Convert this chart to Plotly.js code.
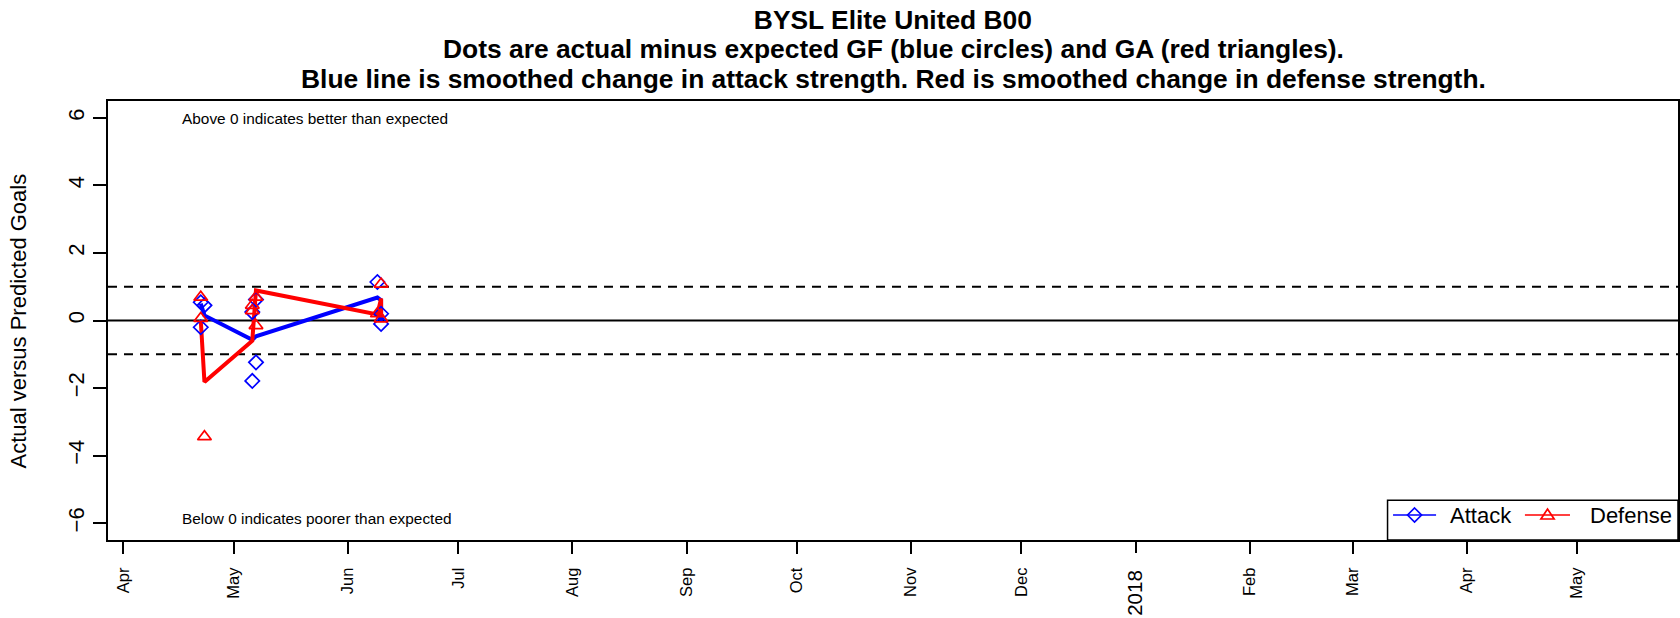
<!DOCTYPE html>
<html>
<head>
<meta charset="utf-8">
<script src="https://cdn.plot.ly/plotly-3.0.1.min.js"></script>
<style>html,body{margin:0;padding:0;background:#fff;}#chart{width:1680px;height:618px;}</style>
</head>
<body>
<div id="chart"></div>
<script>
// ---- data ----
var gameDates = ['2017-04-22','2017-04-22','2017-04-23','2017-05-06','2017-05-06','2017-05-07','2017-05-07','2017-06-09','2017-06-10','2017-06-10'];
var attackDiff = [0.54, -0.20, 0.45, 0.25, -1.79, 0.62, -1.24, 1.14, -0.10, 0.20];
var defenseDiff = [0.69, 0.06, -3.44, 0.29, 0.45, 0.69, -0.15, 0.20, 1.08, 0.05];
var attackSmooth = [0.50, 0.50, 0.15, -0.57, -0.57, -0.47, -0.47, 0.68, 0.60, 0.00];
var defenseSmooth = [0.00, 0.00, -1.82, -0.60, -0.60, 0.89, 0.89, 0.18, 0.65, 0.12];

var monthTickDates = ['2017-04-01','2017-05-01','2017-06-01','2017-07-01','2017-08-01','2017-09-01','2017-10-01','2017-11-01','2017-12-01','2018-02-01','2018-03-01','2018-04-01','2018-05-01'];
var monthTickLabels = ['Apr','May','Jun','Jul','Aug','Sep','Oct','Nov','Dec','Feb','Mar','Apr','May'];
var yearTickDates = ['2018-01-01'];
var yearTickLabels = ['2018'];
var yTicks = [-6, -4, -2, 0, 2, 4, 6];
var refLevels = [-1, 0, 1];
var legendNames = ['Attack', 'Defense'];

var titleLines = ['BYSL Elite United B00',
  'Dots are actual minus expected GF (blue circles) and GA (red triangles).',
  'Blue line is smoothed change in attack strength. Red is smoothed change in defense strength.'];

var FONT = 'Liberation Sans, Arial, Helvetica, sans-serif';
var BLUE = '#0000FF', RED = '#FF0000';
var xRange = ['2017-03-27 19:00', '2018-05-28 10:00'];

var traces = [
  {x: gameDates, y: attackSmooth, mode: 'lines', name: 'Attack trend', line: {color: BLUE, width: 4}, showlegend: false, hoverinfo: 'skip'},
  {x: gameDates, y: defenseSmooth, mode: 'lines', name: 'Defense trend', line: {color: RED, width: 4}, showlegend: false, hoverinfo: 'skip'},
  {x: gameDates, y: attackDiff, mode: 'markers', name: legendNames[0], marker: {symbol: 'diamond-open', size: 11, color: BLUE, line: {width: 1.7, color: BLUE}}, showlegend: false},
  {x: gameDates, y: defenseDiff, mode: 'markers', name: legendNames[1], marker: {symbol: 'triangle-up-open', size: 12, color: RED, line: {width: 1.7, color: RED}}, showlegend: false},
  {x: yearTickDates, y: [null], xaxis: 'x2', mode: 'markers', showlegend: false, hoverinfo: 'skip'}
];

var shapes = refLevels.map(function (v) {
  return {type: 'line', xref: 'paper', x0: 0, x1: 1, yref: 'y', y0: v, y1: v,
    line: {color: '#000', width: 2, dash: v === 0 ? 'solid' : '9px,7px'}, layer: 'below'};
});

// legend box (bottom-right, inside the plot frame)
var LY = 0.0569;
shapes.push({type: 'rect', xref: 'paper', yref: 'paper', x0: 0.815, x1: 1, y0: 0, y1: 0.0904, line: {color: '#000', width: 1.5}, fillcolor: '#fff', layer: 'above'});
shapes.push({type: 'line', xref: 'paper', yref: 'paper', x0: 0.8185, x1: 0.8459, y0: LY, y1: LY, line: {color: BLUE, width: 1.6}, layer: 'above'});
shapes.push({type: 'path', xref: 'paper', yref: 'paper', xsizemode: 'pixel', ysizemode: 'pixel', xanchor: 0.8322, yanchor: LY,
  path: 'M0,7L7,0L0,-7L-7,0Z', line: {color: BLUE, width: 1.7}, fillcolor: 'rgba(0,0,0,0)', layer: 'above'});
shapes.push({type: 'line', xref: 'paper', yref: 'paper', x0: 0.9025, x1: 0.9312, y0: LY, y1: LY, line: {color: RED, width: 1.6}, layer: 'above'});
shapes.push({type: 'path', xref: 'paper', yref: 'paper', xsizemode: 'pixel', ysizemode: 'pixel', xanchor: 0.9169, yanchor: LY,
  path: 'M-6.6,-4L6.6,-4L0,6Z', line: {color: RED, width: 1.7}, fillcolor: 'rgba(0,0,0,0)', layer: 'above'});

var annotations = [
  {text: '<b>' + titleLines[1] + '</b>', xref: 'paper', yref: 'paper', x: 0.5, y: 1.1195, xanchor: 'center', yanchor: 'middle', showarrow: false, font: {family: FONT, size: 26.4, color: '#000'}},
  {text: '<b>' + titleLines[2] + '</b>', xref: 'paper', yref: 'paper', x: 0.5, y: 1.0512, xanchor: 'center', yanchor: 'middle', showarrow: false, font: {family: FONT, size: 26.4, color: '#000'}},
  {text: 'Above 0 indicates better than expected', xref: 'paper', yref: 'paper', x: 0.0459, y: 0.960, xanchor: 'left', yanchor: 'middle', showarrow: false, font: {family: FONT, size: 15.4, color: '#000'}},
  {text: 'Below 0 indicates poorer than expected', xref: 'paper', yref: 'paper', x: 0.0459, y: 0.0487, xanchor: 'left', yanchor: 'middle', showarrow: false, font: {family: FONT, size: 15.4, color: '#000'}},
  {text: 'Actual versus Predicted Goals', xref: 'paper', yref: 'paper', x: -0.0567, y: 0.5, xanchor: 'center', yanchor: 'middle', textangle: -90, showarrow: false, font: {family: FONT, size: 22, color: '#000'}},
  {text: legendNames[0], xref: 'paper', yref: 'paper', x: 0.8535, y: LY, xanchor: 'left', yanchor: 'middle', showarrow: false, font: {family: FONT, size: 22, color: '#000'}},
  {text: legendNames[1], xref: 'paper', yref: 'paper', x: 0.9425, y: LY, xanchor: 'left', yanchor: 'middle', showarrow: false, font: {family: FONT, size: 22, color: '#000'}}
];

var layout = {
  width: 1680, height: 618,
  margin: {l: 108, r: 2, t: 101, b: 78, pad: 0},
  paper_bgcolor: '#fff', plot_bgcolor: '#fff',
  font: {family: FONT, color: '#000', size: 22},
  showlegend: false,
  title: {text: '<b>' + titleLines[0] + '</b>', x: 0.5315, xref: 'container', xanchor: 'center', y: 0.9688, yref: 'container', yanchor: 'middle', font: {family: FONT, size: 26.4, color: '#000'}},
  xaxis: {type: 'date', range: xRange, tickmode: 'array', tickvals: monthTickDates, ticktext: monthTickLabels,
    tickangle: -90, tickfont: {family: FONT, size: 16.5, color: '#000'}, ticks: 'outside', ticklen: 12, tickwidth: 2, tickcolor: '#000',
    showline: true, linecolor: '#000', linewidth: 2, mirror: true, showgrid: false, zeroline: false, ticklabelstandoff: 7},
  xaxis2: {type: 'date', range: xRange, overlaying: 'x', anchor: 'y', side: 'bottom', tickmode: 'array', tickvals: yearTickDates, ticktext: yearTickLabels,
    tickangle: -90, tickfont: {family: FONT, size: 20.5, color: '#000'}, ticks: 'outside', ticklen: 12, tickwidth: 2, tickcolor: '#000',
    showline: false, showgrid: false, zeroline: false, ticklabelstandoff: 9},
  yaxis: {range: [-6.5, 6.5], tickmode: 'array', tickvals: yTicks, tickangle: -90, tickfont: {family: FONT, size: 22, color: '#000'},
    ticks: 'outside', ticklen: 13, tickwidth: 2, tickcolor: '#000',
    showline: true, linecolor: '#000', linewidth: 2, mirror: true, showgrid: false, zeroline: false},
  shapes: shapes,
  annotations: annotations
};

Plotly.newPlot('chart', traces, layout, {staticPlot: true, displayModeBar: false});
</script>
</body>
</html>
